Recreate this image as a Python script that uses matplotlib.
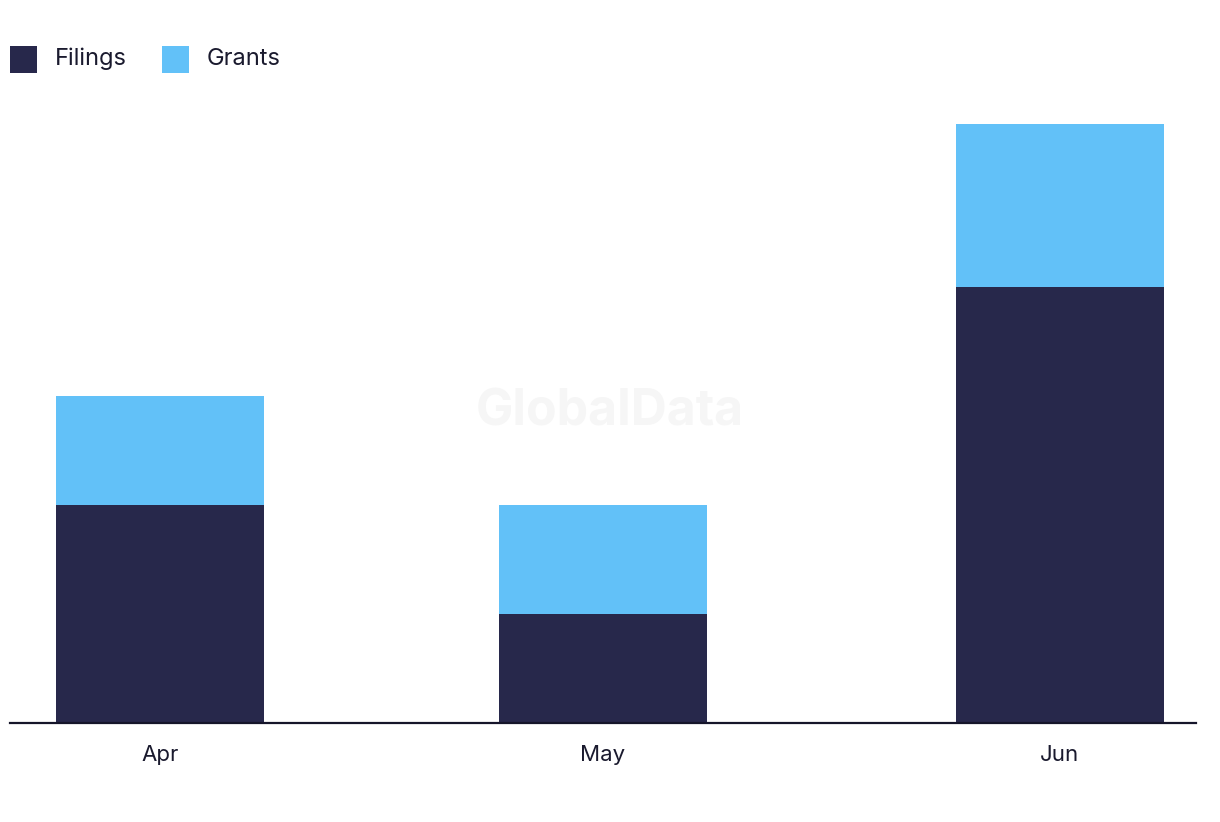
import matplotlib
matplotlib.use("Agg")
import matplotlib.pyplot as plt
import matplotlib.dates as mdates
from matplotlib.patches import Rectangle
import datetime as dt

months = ["2023-04-01", "2023-05-01", "2023-06-01"]
month_labels = ["Apr", "May", "Jun"]
filings = [4, 2, 8]
grants = [2, 2, 3]
series_names = ["Filings", "Grants"]

plt.rcParams['font.family'] = ['Inter', 'DejaVu Sans']

W, H = 1220, 822
fig = plt.figure(figsize=(W / 100, H / 100), dpi=100)
left, right = 10 / W, 1196 / W
bottom = 1 - 723 / H
top = 1 - 124 / H
ax = fig.add_axes([left, bottom, right - left, top - bottom])

x = [mdates.date2num(dt.datetime.fromisoformat(m)) for m in months]
dark = "#27284b"
light = "#62c1f8"
text_col = "#1a1a2e"
width = 14.1
ax.bar(x, filings, width=width, color=dark, label=series_names[0])
ax.bar(x, grants, width=width, bottom=filings, color=light, label=series_names[1])

ax.set_xlim(x[0] - 10.17, x[-1] + 9.22)
ax.set_ylim(0, 11)
ax.set_xticks(x)
ax.set_xticklabels(month_labels, fontsize=16, color=text_col)
ax.tick_params(axis='x', length=0, pad=16)
ax.set_yticks([])
for s in ["top", "right", "left"]:
    ax.spines[s].set_visible(False)
ax.spines["bottom"].set_color("#15152a")
ax.spines["bottom"].set_linewidth(1.6)

fig.text(610 / W, 1 - 412 / H, "GlobalData", fontsize=36, fontweight="bold",
         color="#f6f6f6", ha="center", va="center", zorder=0)

# legend (manual)
sq = 27
for name, col, sx, tx in [(series_names[0], dark, 10, 55), (series_names[1], light, 162, 207)]:
    fig.add_artist(Rectangle((sx / W, 1 - 73 / H), sq / W, sq / H,
                             transform=fig.transFigure, color=col, lw=0))
    fig.text(tx / W, 1 - 59 / H, name, fontsize=17, color=text_col,
             ha="left", va="center")

fig.savefig("out.png", dpi=100)
